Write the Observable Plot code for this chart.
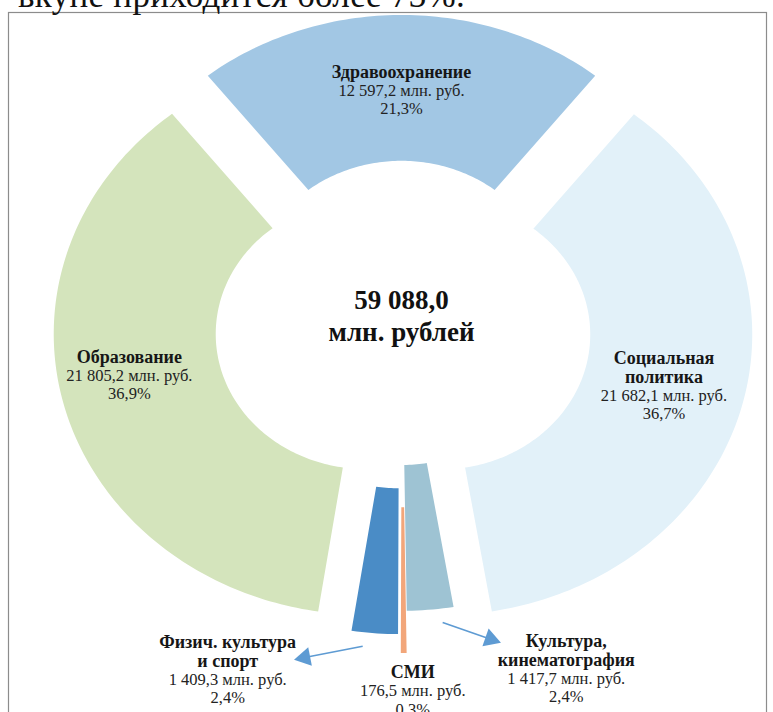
<!DOCTYPE html>
<html><head><meta charset="utf-8">
<script src="https://cdn.jsdelivr.net/npm/d3@7"></script>
<script src="https://cdn.jsdelivr.net/npm/@observablehq/plot@0.6"></script>
<style>
html,body{margin:0;padding:0;background:#fff;overflow:hidden}
#wrap{position:relative;width:773px;height:712px}
#lead{position:absolute;left:18px;top:-22px;font:35px/35px "Liberation Serif",serif;color:#111;white-space:nowrap;letter-spacing:0.3px}
</style></head><body>
<div id="wrap"><div id="chart"></div><div id="lead">вкупе приходится более 73%.</div></div>
<script>
// ---- data ----
const categories = ["Здравоохранение", "Социальная политика", "Культура, кинематография", "СМИ", "Физич. культура и спорт", "Образование"];
const nameLines = [["Здравоохранение"], ["Социальная", "политика"], ["Культура,", "кинематография"], ["СМИ"], ["Физич. культура", "и спорт"], ["Образование"]];
const values = [12597.2, 21682.1, 1417.7, 176.5, 1409.3, 21805.2];
const valueLabels = ["12 597,2 млн. руб.", "21 682,1 млн. руб.", "1 417,7 млн. руб.", "176,5 млн. руб.", "1 409,3 млн. руб.", "21 805,2 млн. руб."];
const percentLabels = ["21,3%", "36,7%", "2,4%", "0,3%", "2,4%", "36,9%"];
const totalLabel = ["59 088,0", "млн. рублей"];

// ---- layout / style ----
const W = 773, H = 712;
const layout = {
  cx: 401, cy: 325, ky: 0.9,
  rInner: 150, rOuter: 312,
  explode: [33, 40, 5, 52, 31, 37],
  colors: ["#a2c7e4", "#e2f1f9", "#9ec3d3", "#f2a67a", "#4a8cc6", "#d4e4bc"],
  lineH: 18.5,
  labelShift: {0: [0, -3], 5: [-13, 13]},
  callouts: {
    2: {label: [136, -35.6], arrow: [12.4, -14.4, 48, -18.5]},
    3: {label: [9, -21.6]},
    4: {label: [-147, -10], arrow: [-12, -14.4, -58, -12.6]}
  }
};
const font = "Liberation Serif";
const ky = layout.ky;
const lhU = layout.lineH / ky;

const total = d3.sum(values);
let acc = -values[0] / 2;
const slices = categories.map((c, i) => {
  const a0 = acc / total * 360; acc += values[i];
  const a1 = acc / total * 360;
  return {i, c, a0, a1, mid: (a0 + a1) / 2};
});
const rad = a => a * Math.PI / 180;
function pt(s, rho, a) {
  const e = layout.explode[s.i], m = rad(s.mid), t = rad(a);
  return [e * Math.sin(m) + rho * Math.sin(t), e * Math.cos(m) + rho * Math.cos(t)];
}
function poly(s) {
  const n = Math.max(2, Math.ceil(s.a1 - s.a0) + 1);
  const out = [];
  for (let j = 0; j < n; j++) { const a = s.a0 + (s.a1 - s.a0) * j / (n - 1); const [x, y] = pt(s, layout.rOuter, a); out.push({x, y}); }
  for (let j = n - 1; j >= 0; j--) { const a = s.a0 + (s.a1 - s.a0) * j / (n - 1); const [x, y] = pt(s, layout.rInner, a); out.push({x, y}); }
  return out;
}

const boldRows = [], regRows = [], links = [], heads = [];
slices.forEach(s => {
  const lines = [...nameLines[s.i].map(t => ({t, b: true})), {t: valueLabels[s.i], b: false}, {t: percentLabels[s.i], b: false}];
  const co = layout.callouts[s.i];
  let ax, ay, first;
  if (co) {
    const [ox, oy] = pt(s, layout.rOuter, s.mid);
    ax = ox + co.label[0]; ay = oy + co.label[1]; first = 0;
    if (co.arrow) {
      const x1 = ox + co.arrow[0], y1 = oy + co.arrow[1];
      const x2 = x1 + co.arrow[2], y2 = y1 + co.arrow[3];
      links.push({x1, y1, x2, y2});
      heads.push({x: x2, y: y2, rot: Math.atan2(co.arrow[2], ky * co.arrow[3]) * 180 / Math.PI});
    }
  } else {
    [ax, ay] = pt(s, (layout.rInner + layout.rOuter) / 2, s.mid);
    const sh = layout.labelShift[s.i];
    if (sh) { ax += sh[0]; ay += sh[1]; }
    first = (lines.length - 1) / 2;
  }
  lines.forEach((l, j) => {
    const row = {x: ax, y: ay + (first - j) * lhU, t: l.t};
    (l.b ? boldRows : regRows).push(row);
  });
});

const marks = [
  Plot.frame({stroke: "#8c8c8c", strokeWidth: 1.2, insetLeft: 8, insetTop: 12, insetRight: 7, insetBottom: -10}),
  ...slices.map(s => Plot.line(poly(s), {x: "x", y: "y", fill: layout.colors[s.i], stroke: "none", curve: "linear-closed"})),
  Plot.link(links, {x1: "x1", y1: "y1", x2: "x2", y2: "y2", stroke: "#5e9bd3", strokeWidth: 1.6}),
  Plot.dot(heads, {x: "x", y: "y", symbol: "triangle", r: 7, fill: "#5e9bd3", stroke: "none", rotate: "rot"}),
  Plot.text(boldRows, {x: "x", y: "y", text: "t", fontFamily: font, fontWeight: "bold", fontSize: 18, fill: "#161616"}),
  Plot.text(regRows, {x: "x", y: "y", text: "t", fontFamily: font, fontSize: 16.5, fill: "#222"}),
  Plot.text([totalLabel.join("\n")], {x: () => 0, y: () => 0, text: d => d, dy: -11, fontFamily: font, fontWeight: "bold", fontSize: 27, lineHeight: 1.2, fill: "#111"})
];

const chart = Plot.plot({
  width: W, height: H, margin: 0,
  x: {domain: [-layout.cx, W - layout.cx], axis: null},
  y: {domain: [(layout.cy - H) / ky, layout.cy / ky], axis: null},
  style: {background: "#fff", overflow: "visible"},
  marks
});
document.getElementById("chart").appendChild(chart);
</script>
</body></html>
